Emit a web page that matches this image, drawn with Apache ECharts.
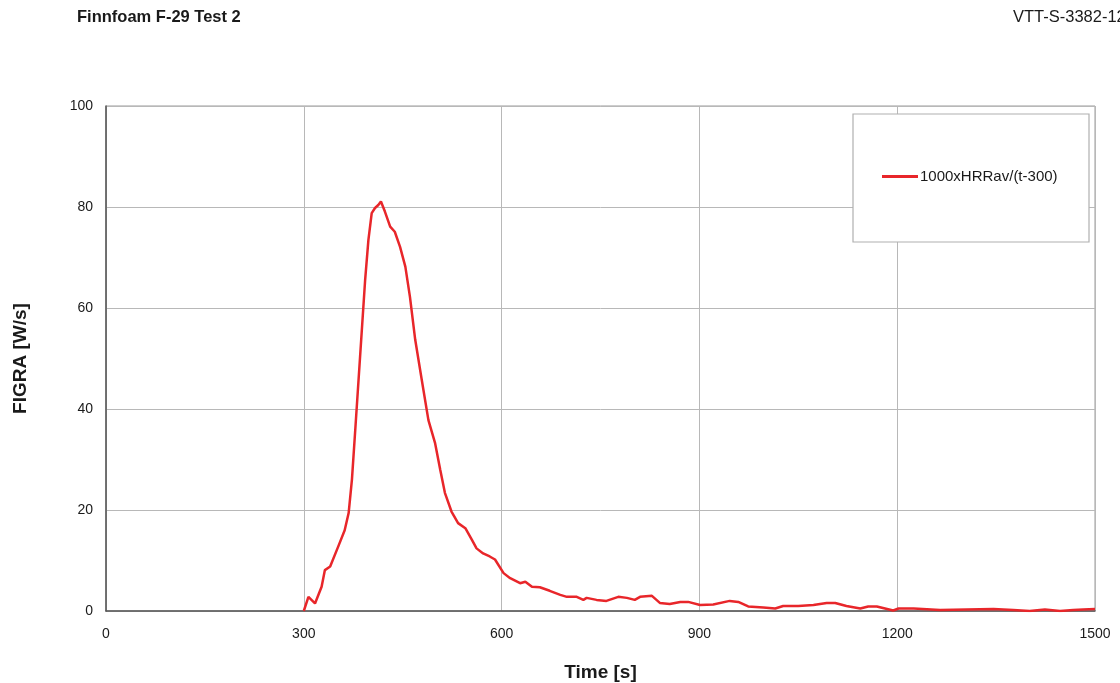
<!DOCTYPE html>
<html>
<head>
<meta charset="utf-8">
<script src="https://cdn.jsdelivr.net/npm/echarts@6/dist/echarts.min.js"></script>
<style>html,body{margin:0;padding:0;background:#fff}#c{width:1120px;height:683px}</style>
</head>
<body>
<div id="c"></div>
<script>
const chartTitle = "Finnfoam F-29 Test 2";
const reportId = "VTT-S-3382-12";
const seriesName = "1000xHRRav/(t-300)";
const xTicks = [0, 300, 600, 900, 1200, 1500];
const yTicks = [0, 20, 40, 60, 80, 100];
const times = [300, 302, 307, 317, 327, 332, 340, 352, 362, 368, 373, 378, 383, 388, 393, 398, 403, 408, 413, 417, 423, 431, 438, 446, 454, 461, 469, 479, 489, 499, 507, 514, 524, 534, 545, 555, 562, 572, 582, 590, 603, 613, 628, 636, 646, 658, 673, 689, 699, 714, 724, 729, 744, 759, 777, 790, 802, 810, 828, 840, 855, 871, 883, 901, 921, 946, 959, 974, 997, 1015, 1027, 1050, 1073, 1093, 1106, 1123, 1144, 1156, 1169, 1194, 1202, 1225, 1265, 1305, 1346, 1376, 1401, 1424, 1447, 1467, 1482, 1500];
const figra = [0, 0.3, 2.8, 1.5, 4.8, 8.1, 8.8, 12.7, 16.0, 19.4, 26.0, 35.8, 45.7, 55.6, 65.5, 73.5, 78.8, 79.8, 80.4, 81.1, 79.1, 76.1, 75.1, 72.1, 68.2, 62.2, 53.7, 45.7, 37.8, 33.3, 27.9, 23.4, 19.7, 17.4, 16.4, 14.1, 12.4, 11.4, 10.8, 10.2, 7.5, 6.5, 5.5, 5.8, 4.8, 4.7, 4.0, 3.2, 2.8, 2.8, 2.2, 2.6, 2.2, 2.0, 2.8, 2.6, 2.2, 2.8, 3.0, 1.6, 1.4, 1.8, 1.8, 1.2, 1.3, 2.0, 1.8, 0.9, 0.7, 0.5, 1.0, 1.0, 1.2, 1.6, 1.6, 1.0, 0.5, 0.9, 0.9, 0.1, 0.5, 0.5, 0.2, 0.3, 0.4, 0.2, 0.0, 0.3, 0.0, 0.2, 0.3, 0.4];

const chart = echarts.init(document.getElementById('c'), null, {renderer: 'canvas'});
const font = 'Liberation Sans, Arial, sans-serif';
chart.setOption({
  animation: false,
  backgroundColor: '#fff',
  textStyle: {fontFamily: font},
  grid: {left: 106, right: 25, top: 106, bottom: 72, show: true, borderColor: '#9a9a9a', borderWidth: 1, outerBoundsMode: 'none', containLabel: false},
  graphic: [
    {type: 'text', left: 77, top: 9, style: {text: chartTitle, font: 'bold 16.5px ' + font, fill: '#1a1a1a'}},
    {type: 'text', left: 1013, top: 9, style: {text: reportId, font: '16.5px ' + font, fill: '#1a1a1a'}},
    {type: 'rect', shape: {x: 853, y: 114, width: 236, height: 128}, style: {fill: '#fff', stroke: '#b0b0b0', lineWidth: 1.2}, z: 5}
  ],
  legend: {
    left: 877, top: 164, z: 10,
    itemWidth: 36, itemHeight: 3, itemGap: 2,
    icon: 'rect',
    textStyle: {fontFamily: font, fontSize: 15, color: '#1a1a1a', padding: [0, 0, 0, -3]},
    data: [seriesName]
  },
  xAxis: {
    type: 'value', min: xTicks[0], max: xTicks[xTicks.length - 1], interval: 300,
    name: 'Time [s]', nameLocation: 'middle', nameGap: 52,
    nameTextStyle: {fontFamily: font, fontWeight: 'bold', fontSize: 19, color: '#1a1a1a'},
    axisLine: {show: true, lineStyle: {color: '#555', width: 1.5}},
    axisTick: {show: false},
    axisLabel: {fontFamily: font, fontSize: 14, color: '#1a1a1a', margin: 16, formatter: v => String(v)},
    splitLine: {show: true, lineStyle: {color: '#b8b8b8', width: 1}}
  },
  yAxis: {
    type: 'value', min: yTicks[0], max: yTicks[yTicks.length - 1], interval: 20,
    name: 'FIGRA [W/s]', nameLocation: 'middle', nameGap: 76, nameRotate: 90,
    nameTextStyle: {fontFamily: font, fontWeight: 'bold', fontSize: 19, color: '#1a1a1a'},
    axisLine: {show: true, lineStyle: {color: '#555', width: 1.5}},
    axisTick: {show: false},
    axisLabel: {fontFamily: font, fontSize: 14, color: '#1a1a1a', margin: 13, formatter: v => String(v)},
    splitLine: {show: true, lineStyle: {color: '#b8b8b8', width: 1}}
  },
  series: [{
    name: seriesName,
    type: 'line',
    data: times.map((t, i) => [t, figra[i]]),
    symbol: 'none',
    smooth: false,
    itemStyle: {color: '#e8262a'},
    lineStyle: {color: '#e8262a', width: 2.5}
  }]
});
</script>
</body>
</html>
